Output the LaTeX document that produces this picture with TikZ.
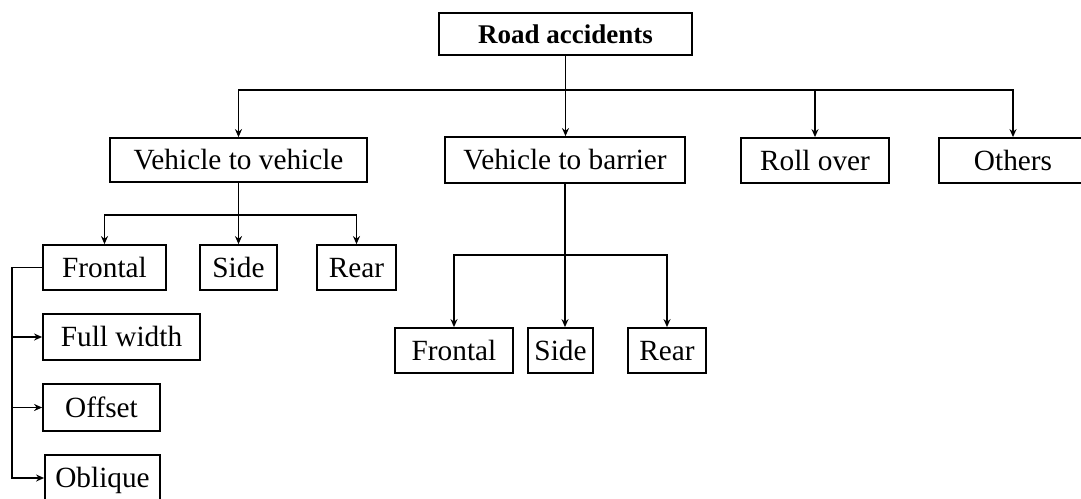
\documentclass[tikz,border=0pt]{standalone}
\usepackage{fontspec}
\setmainfont{Liberation Serif}
\usetikzlibrary{arrows.meta,calc}
\begin{document}
\begin{tikzpicture}[x=1pt,y=-1pt,
  box/.style={draw,line width=1.8pt,inner sep=0pt,text height=19.5pt,text depth=0pt,font=\fontsize{29.3}{35}\selectfont},
  rootbox/.style={box,text height=18pt,font=\fontsize{27}{32}\selectfont\bfseries},
  link/.style={line width=1.8pt},
  arr/.style={link,-{Stealth[length=8pt,width=7pt]}}]
\useasboundingbox (0,0) rectangle (1081,498);
\node[rootbox,minimum width=253pt,minimum height=42pt] (root) at (565.5,34) {Road accidents};
\node[box,minimum width=257pt,minimum height=44pt] (v2v) at (238.5,160) {Vehicle to vehicle};
\node[box,minimum width=240pt,minimum height=46pt] (v2b) at (565,160) {Vehicle to barrier};
\node[box,minimum width=148pt,minimum height=45pt] (roll) at (815,160.5) {Roll over};
\node[box,minimum width=148pt,minimum height=45pt] (others) at (1013,160.5) {Others};
\node[box,minimum width=123pt,minimum height=45pt] (fr1) at (104.5,267.5) {Frontal};
\node[box,minimum width=77pt,minimum height=45pt] (si1) at (238.5,267.5) {Side};
\node[box,minimum width=79pt,minimum height=45pt] (re1) at (356.5,267.5) {Rear};
\node[box,minimum width=157pt,minimum height=46pt] (full) at (121.5,337) {Full width};
\node[box,minimum width=117pt,minimum height=47pt] (off) at (101.5,407.5) {Offset};
\node[box,minimum width=115pt,minimum height=46pt] (obl) at (102.5,478) {Oblique};
\node[box,minimum width=118pt,minimum height=45pt] (fr2) at (454,350.5) {Frontal};
\node[box,minimum width=65pt,minimum height=45pt] (si2) at (560.5,350.5) {Side};
\node[box,minimum width=78pt,minimum height=45pt] (re2) at (667,350.5) {Rear};
% level 1
\coordinate (b1) at (565.5,90);
\draw[arr] (root.south) -- (root.south |- v2b.north);
\draw[arr] (b1) -| (v2v.north);
\draw[arr] (b1) -| (roll.north);
\draw[arr] (b1) -| (others.north);
% vehicle to vehicle
\coordinate (b2) at (238.5,215);
\draw[arr] (v2v.south) -- (si1.north);
\draw[arr] (b2) -| (fr1.north);
\draw[arr] (b2) -| (re1.north);
% vehicle to barrier
\coordinate (b3) at (565,255);
\draw[arr] (v2b.south) -- (v2b.south |- si2.north);
\draw[arr] (b3) -| (fr2.north);
\draw[arr] (b3) -| (re2.north);
% frontal sub-types
\coordinate (rail) at (12,0);
\draw[arr] (fr1.west) -- (fr1.west -| rail) |- (obl.west);
\draw[arr] (full.west -| rail) -- (full.west);
\draw[arr] (off.west -| rail) -- (off.west);
\end{tikzpicture}
\end{document}
